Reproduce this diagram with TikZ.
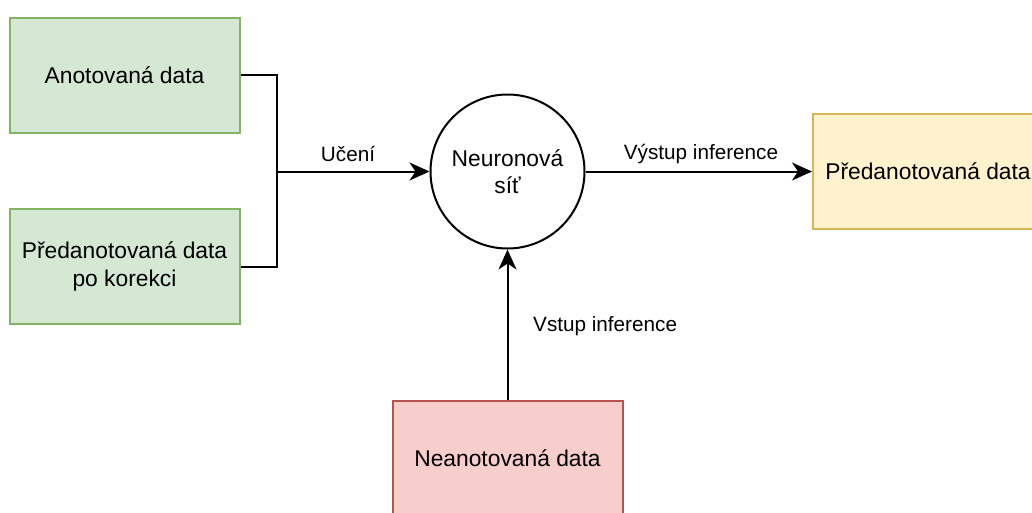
\documentclass[tikz,border=0pt]{standalone}
\usepackage{fontspec}
\setmainfont{Liberation Sans}
\usetikzlibrary{arrows.meta}
\definecolor{gfill}{HTML}{D5E8D4}
\definecolor{gline}{HTML}{82B366}
\definecolor{yfill}{HTML}{FFF2CC}
\definecolor{yline}{HTML}{D6B656}
\definecolor{rfill}{HTML}{F8CECC}
\definecolor{rline}{HTML}{B85450}
\tikzset{
  box/.style={rectangle, line width=2pt, minimum width=230pt, minimum height=115pt,
    inner sep=0pt, align=center, font=\fontsize{22.8}{27.3}\selectfont},
  greenbox/.style={box, fill=gfill, draw=gline},
  yellowbox/.style={box, fill=yfill, draw=yline},
  redbox/.style={box, fill=rfill, draw=rline},
  net/.style={circle, draw=black, line width=2pt, minimum size=154pt, inner sep=0pt,
    align=center, font=\fontsize{22.8}{27.3}\selectfont},
  conn/.style={line width=2pt, draw=black},
  arr/.style={conn, -{Stealth[length=20pt, width=18pt, inset=6pt]}},
  lbl/.style={font=\fontsize{20.7}{24}\selectfont, inner sep=0pt}
}
\begin{document}
\begin{tikzpicture}[x=1pt, y=-1pt]
\useasboundingbox (0,0) rectangle (1032,512);
\clip (0,0) rectangle (1032,512);
\node[greenbox] (A) at (124.5,75) {Anotovaná data};
\node[greenbox] (B) at (124.5,266.5) {Předanotovaná data\\po korekci};
\node[net] (C) at (507.5,171.5) {Neuronová\\síť};
\node[yellowbox] (D) at (928,171.5) {Předanotovaná data};
\node[redbox] (E) at (507.5,458) {Neanotovaná data};
\coordinate (J) at (277,171.5);
\draw[conn] (A.east) -| (J);
\draw[conn] (B.east) -| (J);
\draw[arr] (J) -- (C.west);
\draw[arr] (C.east) -- (D.west);
\draw[arr] (E.north) -- (C.south);
\node[lbl] (L1) at (348,154) {Učení};
\node[lbl] (L2) at (701,154) {Výstup inference};
\node[lbl, anchor=west] (L3) at (533,326) {Vstup inference};
\end{tikzpicture}
\end{document}
